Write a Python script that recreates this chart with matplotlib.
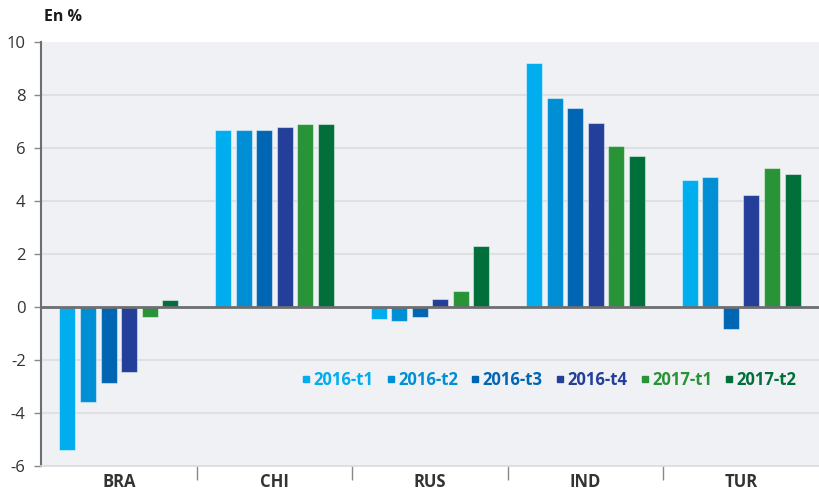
import matplotlib
matplotlib.use("Agg")
import matplotlib.pyplot as plt
import numpy as np
from matplotlib.lines import Line2D

plt.rcParams['font.family'] = ['Open Sans', 'DejaVu Sans']

categories = ["BRA", "CHI", "RUS", "IND", "TUR"]
series_names = ["2016-t1", "2016-t2", "2016-t3", "2016-t4", "2017-t1", "2017-t2"]
s2016_t1 = [-5.40, 6.67, -0.46, 9.21, 4.78]
s2016_t2 = [-3.58, 6.67, -0.54, 7.89, 4.92]
s2016_t3 = [-2.87, 6.67, -0.38, 7.51, -0.82]
s2016_t4 = [-2.45, 6.79, 0.32, 6.96, 4.24]
s2017_t1 = [-0.38, 6.90, 0.62, 6.09, 5.23]
s2017_t2 = [0.26, 6.90, 2.32, 5.71, 5.03]
series_values = [s2016_t1, s2016_t2, s2016_t3, s2016_t4, s2017_t1, s2017_t2]
colors = ["#00aeef", "#008fd5", "#0066b3", "#233f99", "#299338", "#006f3a"]
yticks = [-6, -4, -2, 0, 2, 4, 6, 8, 10]

fig = plt.figure(figsize=(8.19, 4.95), dpi=100)
ax = fig.add_axes([41/819, 29/495, 778/819, 424/495])
ax.set_facecolor("#f0f1f4")

x = np.arange(len(categories))
pitch = 0.132
width = 0.103
for i, (name, vals, c) in enumerate(zip(series_names, series_values, colors)):
    ax.bar(x + (i - 2.5) * pitch, vals, width=width, color=c,
           edgecolor=(1, 1, 1, 0.45), linewidth=0.8, zorder=3, label=name)

ax.set_xlim(-0.5, len(categories) - 0.5)
ax.set_ylim(-6, 10)
ax.set_yticks(yticks)
ax.set_yticklabels([str(v) for v in yticks], fontsize=12, color="#333333")
for v in yticks:
    if v not in (0, -6, 10):
        ax.axhline(v, color="#dfe0e4", lw=1.5, zorder=1)
ax.axhline(0, color="#6d6e71", lw=2, zorder=4)

ax.set_xticks(x)
ax.set_xticklabels(categories, fontsize=12, fontweight="bold", color="#333333")
ax.set_xticks(np.arange(0.5, len(categories) - 0.5, 1), minor=True)
ax.tick_params(axis="x", which="major", length=0, pad=5)
ax.tick_params(axis="x", which="minor", length=10, width=1, color="#888888")
ax.tick_params(axis="y", length=5, width=1, color="#888888", pad=6)

for s in ["top", "right"]:
    ax.spines[s].set_visible(False)
ax.spines["left"].set_color("#6d6e71")
ax.spines["left"].set_linewidth(1.5)
ax.spines["bottom"].set_color("#d9dadd")
ax.spines["bottom"].set_linewidth(1.2)

handles = [Line2D([0], [0], marker="s", linestyle="none", markersize=5,
                  markerfacecolor=c, markeredgecolor=c) for c in colors]
leg = ax.legend(handles, series_names, loc="center left", bbox_to_anchor=(261/778, (466-380)/424),
                ncol=6, frameon=False, handlelength=0.5, handletextpad=0.2,
                columnspacing=0.78, borderaxespad=0, borderpad=0,
                prop={"size": 12, "weight": "bold"})
for t, c in zip(leg.get_texts(), colors):
    t.set_color(c)

fig.text(44/819, 1 - 17/495, "En %", fontsize=11.5, fontweight="bold", color="#1a1a1a", va="center", ha="left")

fig.savefig("out.png", dpi=100)
